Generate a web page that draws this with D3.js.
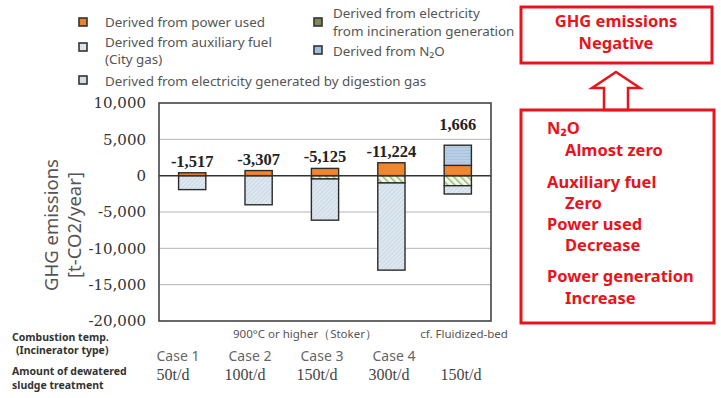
<!DOCTYPE html>
<html><head><meta charset="utf-8">
<script src="https://cdn.jsdelivr.net/npm/d3@7/dist/d3.min.js"></script>
<style>body{margin:0;background:#fff}svg{display:block}</style>
</head><body>
<svg id="c" width="721" height="398"></svg>
<script>
// ---- data ----
const cases = ["Case 1", "Case 2", "Case 3", "Case 4", "Fluidized"];
const powerUsed    = [400, 700, 1000, 1776, 1420];
const auxFuel      = [0, 0, 0, 0, 0];
const n2o          = [0, 0, 0, 0, 2770];
const incineration = [0, 0, -450, -1000, -1380];
const digestion    = [-1917, -4007, -5675, -12000, -1144];
const totalLabels  = ["-1,517", "-3,307", "-5,125", "-11,224", "1,666"];
const yTicks = [10000, 5000, 0, -5000, -10000, -15000, -20000];
const caseLabels = ["Case 1", "Case 2", "Case 3", "Case 4"];
const amountLabels = ["50t/d", "100t/d", "150t/d", "300t/d", "150t/d"];
const seriesKeys = ["power", "aux", "n2o", "incin", "digest"];
const seriesNames = {
  power: ["Derived from power used"],
  incin: ["Derived from electricity", "from incineration generation"],
  aux: ["Derived from auxiliary fuel", "(City gas)"],
  n2o: ["Derived from N\u2082O"],
  digest: ["Derived from electricity generated by digestion gas"]
};
const noteTop = ["GHG emissions", "Negative"];
const noteItems = [["N\u2082O", "Almost zero"], ["Auxiliary fuel", "Zero"], ["Power used", "Decrease"], ["Power generation", "Increase"]];

const rows = cases.map((c, i) => ({case: c, power: powerUsed[i], aux: auxFuel[i], n2o: n2o[i], incin: incineration[i], digest: digestion[i]}));

const svg = d3.select("#c");
const defs = svg.append("defs");
function hatch(id, bg, line, angle, gap, w) {
  const p = defs.append("pattern").attr("id", id).attr("patternUnits", "userSpaceOnUse")
    .attr("width", gap).attr("height", gap).attr("patternTransform", `rotate(${angle})`);
  p.append("rect").attr("width", gap).attr("height", gap).attr("fill", bg);
  p.append("line").attr("x1", 0).attr("y1", 0).attr("x2", 0).attr("y2", gap).attr("stroke", line).attr("stroke-width", w);
}
hatch("pDig", "#dde8f0", "#b0c2cf", 45, 3, 0.8);
hatch("pInc", "#f4f8ee", "#8fbd68", -45, 5, 3);
hatch("pAux", "#e4edf4", "#9fb3c2", 45, 3, 0.8);
const hp = defs.append("pattern").attr("id", "pN2o").attr("patternUnits", "userSpaceOnUse").attr("width", 4).attr("height", 3);
hp.append("rect").attr("width", 4).attr("height", 3).attr("fill", "#b7cfe4");
hp.append("line").attr("x1", 0).attr("y1", 0.5).attr("x2", 4).attr("y2", 0.5).attr("stroke", "#a4bfd8").attr("stroke-width", 0.7);
const fills = {power: "#f0862e", aux: "url(#pAux)", n2o: "url(#pN2o)", incin: "url(#pInc)", digest: "url(#pDig)"};

// ---- scales ----
const x = d3.scaleBand().domain(cases).range([159, 491]).padding(0);
const y = d3.scaleLinear().domain([-20000, 10000]).range([321, 103]);
const barW = x.bandwidth() * 0.41;

// grid
svg.append("g").selectAll("line").data(yTicks.filter(t => t !== 0 && t !== 10000 && t !== -20000)).join("line")
  .attr("x1", 159).attr("x2", 491).attr("y1", d => y(d)).attr("y2", d => y(d))
  .attr("stroke", "#b5b5b5").attr("stroke-width", 1);

// stacked bars
const stack = d3.stack().keys(seriesKeys).offset(d3.stackOffsetDiverging);
const layers = stack(rows);
const gBars = svg.append("g");
layers.forEach(layer => {
  gBars.append("g").selectAll("rect").data(layer.filter(d => d[1] !== d[0])).join("rect")
    .attr("x", d => x(d.data.case) + (x.bandwidth() - barW) / 2)
    .attr("width", barW)
    .attr("y", d => y(Math.max(d[0], d[1])))
    .attr("height", d => Math.abs(y(d[0]) - y(d[1])))
    .attr("fill", fills[layer.key])
    .attr("stroke", "#2b2b2b").attr("stroke-width", 1.4);
});

// zero line & frame
svg.append("line").attr("x1", 159).attr("x2", 491).attr("y1", y(0)).attr("y2", y(0)).attr("stroke", "#333").attr("stroke-width", 1.5);
svg.append("rect").attr("x", 159).attr("y", y(10000)).attr("width", 332).attr("height", y(-20000) - y(10000))
  .attr("fill", "none").attr("stroke", "#444").attr("stroke-width", 1.6);

// total labels
svg.append("g").selectAll("text").data(rows).join("text")
  .attr("x", d => x(d.case) + x.bandwidth() / 2)
  .attr("y", (d, i) => {
    const top = d.power + d.aux + d.n2o;
    const tot = d.power + d.aux + d.n2o + d.incin + d.digest;
    return y(top) - 6 - (tot > 0 ? 9 : 0);
  })
  .attr("text-anchor", "middle").attr("font-family", "Liberation Serif").attr("font-weight", "bold")
  .attr("font-size", 16.5).attr("fill", "#222").text((d, i) => totalLabels[i]);

// y axis
const yAxis = d3.axisLeft(y).tickValues(yTicks).tickSize(0).tickPadding(0).tickFormat(d3.format(","));
const ga = svg.append("g").attr("transform", "translate(146,0)").call(yAxis);
ga.select(".domain").remove();
ga.selectAll("text").attr("font-family", "DejaVu Serif").attr("font-size", 15).attr("fill", "#333")
  .text(d => d3.format(",")(d).replace("\u2212", "-"));

svg.append("text").attr("transform", "translate(58,225) rotate(-90)").attr("text-anchor", "middle")
  .attr("font-family", "Noto Sans").attr("font-size", 18.5).attr("fill", "#555").text("GHG emissions");
svg.append("text").attr("transform", "translate(81,225) rotate(-90)").attr("text-anchor", "middle")
  .attr("font-family", "Noto Sans").attr("font-size", 18.5).attr("fill", "#555").text("[t-CO2/year]");

// legend
const legend = [
  {k: "power", ix: 83, iy: 22, tx: 105, ty: [22]},
  {k: "incin", ix: 318, iy: 22, tx: 333, ty: [13, 31]},
  {k: "aux", ix: 83, iy: 47, tx: 105, ty: [42, 59]},
  {k: "n2o", ix: 318, iy: 50, tx: 333, ty: [51]},
  {k: "digest", ix: 83, iy: 80, tx: 105, ty: [81]}
];
const iconFill = {power: "#ee7f2b", incin: "#7d8a55", aux: "#dde4ea", n2o: "#9fbfdc", digest: "#d8dde2"};
const gl = svg.append("g");
legend.forEach(l => {
  gl.append("rect").attr("x", l.ix - 4).attr("y", l.iy - 4).attr("width", 8).attr("height", 8)
    .attr("fill", iconFill[l.k]).attr("stroke", "#333").attr("stroke-width", 1.6);
  seriesNames[l.k].forEach((t, j) => {
    gl.append("text").attr("x", l.tx).attr("y", l.ty[j]).attr("dy", "0.35em")
      .attr("font-family", "Noto Sans").attr("font-size", 13.4).attr("fill", "#555").text(t);
  });
});

// bottom table
const xt = d3.scalePoint().domain(amountLabels.map((d, i) => i)).range([173, 461]);
const bt = svg.append("g").attr("font-family", "Noto Sans");
bt.append("text").attr("x", 12).attr("y", 341).attr("font-size", 10.5).attr("font-weight", "bold").attr("fill", "#333").text("Combustion temp.");
bt.append("text").attr("x", 16).attr("y", 354).attr("font-size", 10.5).attr("font-weight", "bold").attr("fill", "#333").text("(Incinerator type)");
bt.append("text").attr("x", 12).attr("y", 375).attr("font-size", 10.5).attr("font-weight", "bold").attr("fill", "#333").text("Amount of dewatered");
bt.append("text").attr("x", 12).attr("y", 389).attr("font-size", 10.5).attr("font-weight", "bold").attr("fill", "#333").text("sludge treatment");
bt.append("text").attr("x", 305).attr("y", 338).attr("text-anchor", "middle").attr("font-size", 11.5).attr("fill", "#555").text("900°C or higher\uFF08Stoker\uFF09");
bt.append("text").attr("x", 464).attr("y", 338).attr("text-anchor", "middle").attr("font-size", 11.5).attr("fill", "#555").text("cf. Fluidized-bed");
bt.selectAll("text.case").data(caseLabels).join("text").attr("class", "case")
  .attr("x", (d, i) => xt(i) + 5).attr("y", 361).attr("text-anchor", "middle")
  .attr("font-size", 14).attr("fill", "#666").text(d => d);
bt.selectAll("text.amt").data(amountLabels).join("text").attr("class", "amt")
  .attr("x", (d, i) => xt(i)).attr("y", 380).attr("text-anchor", "middle")
  .attr("font-family", "Liberation Serif").attr("font-size", 16).attr("fill", "#444").text(d => d);

// right notes
const red = "#e8141c";
const gn = svg.append("g").attr("font-family", "Noto Sans").attr("font-weight", "bold").attr("fill", red);
gn.append("rect").attr("x", 521).attr("y", 7).attr("width", 191).attr("height", 56).attr("fill", "none").attr("stroke", red).attr("stroke-width", 3);
noteTop.forEach((t, i) => gn.append("text").attr("x", 616).attr("y", 21 + i * 22).attr("dy", "0.35em").attr("text-anchor", "middle").attr("font-size", 16.5).text(t));
gn.append("path").attr("d", "M616,72 L640,88 L628,88 L628,110 L604,110 L604,88 L592,88 Z")
  .attr("fill", "#fff").attr("stroke", red).attr("stroke-width", 2.5).attr("stroke-linejoin", "miter");
gn.append("rect").attr("x", 521).attr("y", 110).attr("width", 193).attr("height", 213).attr("fill", "none").attr("stroke", red).attr("stroke-width", 3);
const noteY = [[128, 150], [182, 203], [224, 245], [276, 298]];
noteItems.forEach((it, i) => {
  gn.append("text").attr("x", 547).attr("y", noteY[i][0]).attr("dy", "0.35em").attr("font-size", 16.5).text(it[0]);
  gn.append("text").attr("x", 565).attr("y", noteY[i][1]).attr("dy", "0.35em").attr("font-size", 16.5).text(it[1]);
});
</script>
</body></html>
